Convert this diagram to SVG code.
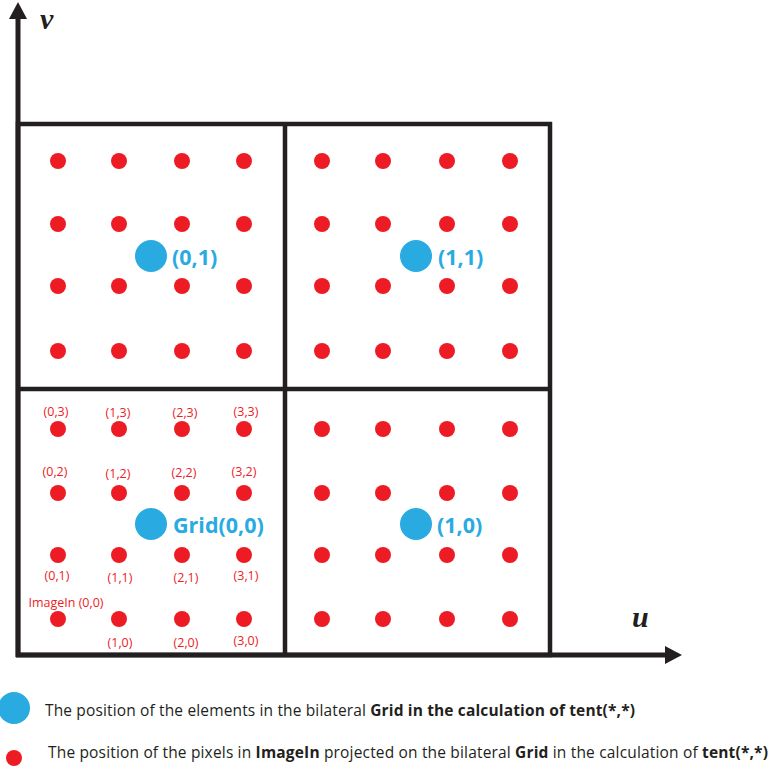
<svg xmlns="http://www.w3.org/2000/svg" width="772" height="774" viewBox="0 0 772 774">
<style>
.frame{fill:none;stroke:#231f20;stroke-width:4.5}
.axis{stroke:#231f20;stroke-width:5;fill:none}
.head{fill:#231f20}
.r{fill:#ed1c24}
.b{fill:#29abe2}
.lbl{font-family:"Open Sans","Liberation Sans",sans-serif;font-size:12.5px;fill:#ed1c24;text-anchor:middle}
.gl{font-family:"Open Sans","Liberation Sans",sans-serif;font-size:21.5px;font-weight:bold;fill:#29abe2}
.ax{font-family:"Liberation Serif",serif;font-size:30px;font-weight:bold;font-style:italic;fill:#231f20}
.leg{font-family:"Open Sans","Liberation Sans",sans-serif;font-size:15.5px;fill:#231f20}
.bd{font-weight:bold}
</style>
<g id="axes">
<line class="axis" x1="18" y1="657" x2="18" y2="16"/>
<polygon class="head" points="18,2 9,19 27,19"/>
<line class="axis" x1="16" y1="655" x2="668" y2="655"/>
<polygon class="head" points="682,655 665,646 665,664"/>
<text class="ax" x="40" y="29">v</text>
<text class="ax" x="632" y="627">u</text>
</g>
<g id="grid-frame">
<rect class="frame" x="18" y="124" width="532" height="531"/>
<line class="frame" x1="285" y1="124" x2="285" y2="655"/>
<line class="frame" x1="18" y1="389" x2="550" y2="389"/>
</g>
<g id="cell01">
<circle class="r" cx="58" cy="161" r="8"/><circle class="r" cx="119" cy="161" r="8"/><circle class="r" cx="182" cy="161" r="8"/><circle class="r" cx="244" cy="161" r="8"/>
<circle class="r" cx="58" cy="224" r="8"/><circle class="r" cx="119" cy="224" r="8"/><circle class="r" cx="182" cy="224" r="8"/><circle class="r" cx="244" cy="224" r="8"/>
<circle class="r" cx="58" cy="286" r="8"/><circle class="r" cx="119" cy="286" r="8"/><circle class="r" cx="182" cy="286" r="8"/><circle class="r" cx="244" cy="286" r="8"/>
<circle class="r" cx="58" cy="351" r="8"/><circle class="r" cx="119" cy="351" r="8"/><circle class="r" cx="182" cy="351" r="8"/><circle class="r" cx="244" cy="351" r="8"/>
<circle class="b" cx="151" cy="256" r="16"/>
<text class="gl" x="172" y="265">(0,1)</text>
</g>
<g id="cell11">
<circle class="r" cx="322" cy="161" r="8"/><circle class="r" cx="383" cy="161" r="8"/><circle class="r" cx="447" cy="161" r="8"/><circle class="r" cx="510" cy="161" r="8"/>
<circle class="r" cx="322" cy="224" r="8"/><circle class="r" cx="383" cy="224" r="8"/><circle class="r" cx="447" cy="224" r="8"/><circle class="r" cx="510" cy="224" r="8"/>
<circle class="r" cx="322" cy="286" r="8"/><circle class="r" cx="383" cy="286" r="8"/><circle class="r" cx="447" cy="286" r="8"/><circle class="r" cx="510" cy="286" r="8"/>
<circle class="r" cx="322" cy="351" r="8"/><circle class="r" cx="383" cy="351" r="8"/><circle class="r" cx="447" cy="351" r="8"/><circle class="r" cx="510" cy="351" r="8"/>
<circle class="b" cx="416" cy="256" r="16"/>
<text class="gl" x="438" y="265">(1,1)</text>
</g>
<g id="cell00">
<circle class="r" cx="58" cy="429" r="8"/><circle class="r" cx="119" cy="429" r="8"/><circle class="r" cx="182" cy="429" r="8"/><circle class="r" cx="244" cy="429" r="8"/>
<circle class="r" cx="58" cy="493" r="8"/><circle class="r" cx="119" cy="493" r="8"/><circle class="r" cx="182" cy="493" r="8"/><circle class="r" cx="244" cy="493" r="8"/>
<circle class="r" cx="58" cy="555" r="8"/><circle class="r" cx="119" cy="555" r="8"/><circle class="r" cx="182" cy="555" r="8"/><circle class="r" cx="244" cy="555" r="8"/>
<circle class="r" cx="58" cy="619" r="8"/><circle class="r" cx="119" cy="619" r="8"/><circle class="r" cx="182" cy="619" r="8"/><circle class="r" cx="244" cy="619" r="8"/>
<circle class="b" cx="151" cy="524" r="16"/>
<text class="gl" x="173" y="533">Grid(0,0)</text>
<text class="lbl" x="56" y="416">(0,3)</text><text class="lbl" x="118" y="417">(1,3)</text><text class="lbl" x="185" y="417">(2,3)</text><text class="lbl" x="246" y="416">(3,3)</text>
<text class="lbl" x="55" y="476">(0,2)</text><text class="lbl" x="118" y="478">(1,2)</text><text class="lbl" x="184" y="477">(2,2)</text><text class="lbl" x="244" y="476">(3,2)</text>
<text class="lbl" x="57" y="580">(0,1)</text><text class="lbl" x="120" y="582">(1,1)</text><text class="lbl" x="186" y="582">(2,1)</text><text class="lbl" x="246" y="580">(3,1)</text>
<text class="lbl" x="66" y="607">ImageIn (0,0)</text>
<text class="lbl" x="120" y="647">(1,0)</text><text class="lbl" x="186" y="647">(2,0)</text><text class="lbl" x="246" y="645">(3,0)</text>
</g>
<g id="cell10">
<circle class="r" cx="322" cy="429" r="8"/><circle class="r" cx="383" cy="429" r="8"/><circle class="r" cx="447" cy="429" r="8"/><circle class="r" cx="510" cy="429" r="8"/>
<circle class="r" cx="322" cy="493" r="8"/><circle class="r" cx="383" cy="493" r="8"/><circle class="r" cx="447" cy="493" r="8"/><circle class="r" cx="510" cy="493" r="8"/>
<circle class="r" cx="322" cy="555" r="8"/><circle class="r" cx="383" cy="555" r="8"/><circle class="r" cx="447" cy="555" r="8"/><circle class="r" cx="510" cy="555" r="8"/>
<circle class="r" cx="322" cy="619" r="8"/><circle class="r" cx="383" cy="619" r="8"/><circle class="r" cx="447" cy="619" r="8"/><circle class="r" cx="510" cy="619" r="8"/>
<circle class="b" cx="416" cy="524" r="16"/>
<text class="gl" x="437" y="533">(1,0)</text>
</g>
<g id="legend">
<circle class="b" cx="14" cy="708" r="16"/>
<text class="leg" x="45" y="716" textLength="590" lengthAdjust="spacing">The position of the elements in the bilateral <tspan class="bd">Grid in the calculation of tent(*,*)</tspan></text>
<circle class="r" cx="14" cy="758" r="8"/>
<text class="leg" x="48" y="758" textLength="720" lengthAdjust="spacing">The position of the pixels in <tspan class="bd">ImageIn</tspan> projected on the bilateral <tspan class="bd">Grid</tspan> in the calculation of <tspan class="bd">tent(*,*)</tspan></text>
</g>
</svg>
